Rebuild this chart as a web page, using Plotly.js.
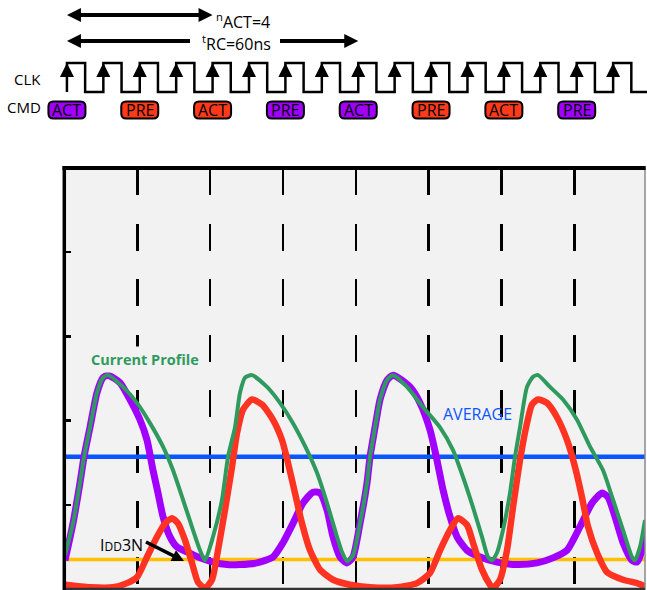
<!DOCTYPE html>
<html><head><meta charset="utf-8">
<script src="https://cdn.plot.ly/plotly-3.0.1.min.js"></script>
<style>html,body{margin:0;padding:0;background:#fff;overflow:hidden}#chart{width:647px;height:590px}</style>
</head><body><div id="chart"></div>
<script>
// ---------------- data ----------------
// time in ns, current in arbitrary units
const purplePts = [[0.1,0.34],[1.75,0.78],[3.19,1.26],[4.02,1.57],[5.25,1.92],[6.69,2.33],[7.93,2.51],[8.96,2.54],[11.43,2.45],[13.49,2.25],[15.55,2.01],[16.99,1.77],[18.23,1.41],[19.26,1.14],[20.29,0.86],[21.73,0.62],[23.17,0.50],[25.23,0.44],[27.91,0.37],[30.59,0.32],[33.47,0.29],[36.15,0.29],[39.65,0.31],[42.95,0.38],[45.01,0.55],[47.06,0.78],[49.12,1.02],[51.18,1.15],[52.63,1.14],[54.07,0.94],[55.31,0.62],[56.75,0.38],[58.19,0.31],[59.42,0.38],[60.87,0.78],[62.31,1.26],[62.93,1.57],[63.96,1.92],[64.99,2.25],[66.43,2.48],[67.67,2.54],[71.17,2.40],[73.23,2.21],[75.28,1.89],[76.72,1.53],[77.96,1.18],[79.40,0.86],[80.85,0.62],[82.91,0.46],[85.58,0.38],[89.08,0.32],[93.2,0.29],[97.32,0.31],[100.62,0.37],[103.5,0.46],[106.18,0.74],[108.65,1.02],[110.71,1.14],[111.95,1.09],[113.39,0.86],[115.04,0.55],[116.89,0.34],[117.92,0.32],[118.95,0.46],[119.98,0.78]];
const greenPts = [[0.1,0.40],[1.75,0.78],[3.19,1.26],[4.02,1.57],[5.25,1.92],[6.69,2.33],[7.93,2.51],[8.96,2.54],[12.05,2.40],[14.93,2.21],[17.61,1.97],[20.29,1.69],[22.35,1.41],[24.41,1.06],[26.47,0.70],[27.91,0.46],[28.94,0.34],[30.59,0.62],[32.44,1.06],[33.68,1.57],[35.12,1.92],[36.15,2.33],[37.18,2.51],[38.62,2.54],[41.71,2.40],[44.39,2.21],[47.06,1.97],[49.95,1.65],[52.01,1.38],[54.07,1.02],[56.13,0.62],[57.16,0.44],[58.19,0.33],[59.42,0.40],[60.87,0.78],[62.31,1.26],[62.93,1.57],[63.96,1.92],[64.99,2.25],[66.43,2.48],[67.67,2.54],[70.55,2.40],[73.85,2.16],[77.35,1.92],[80.02,1.65],[82.08,1.33],[84.14,0.97],[85.99,0.62],[87.23,0.38],[88.06,0.34],[89.08,0.43],[90.32,0.70],[91.76,1.14],[92.79,1.57],[93.82,1.92],[95.26,2.40],[96.5,2.52],[97.53,2.54],[100.0,2.40],[102.68,2.25],[105.56,2.01],[108.24,1.69],[110.92,1.41],[112.98,1.06],[115.04,0.70],[116.89,0.38],[117.5,0.34],[118.54,0.50],[119.57,0.82]];
const redPts = [[0.1,0.05],[5.25,0.02],[9.99,0.02],[12.87,0.07],[14.93,0.14],[16.99,0.38],[19.05,0.62],[20.70,0.78],[22.14,0.84],[23.38,0.78],[24.82,0.58],[26.26,0.31],[27.5,0.08],[28.94,0.01],[30.38,0.11],[31.62,0.46],[33.06,0.94],[34.5,1.45],[35.53,1.85],[36.77,2.13],[38.62,2.25],[40.68,2.19],[42.95,2.01],[44.8,1.77],[46.03,1.50],[47.47,1.14],[48.92,0.78],[50.57,0.46],[52.63,0.23],[55.31,0.11],[58.81,0.05],[62.93,0.02],[68.49,0.02],[72.61,0.07],[75.28,0.19],[77.35,0.46],[79.4,0.70],[81.05,0.84],[82.91,0.76],[84.14,0.55],[85.99,0.23],[87.64,0.05],[88.26,0.01],[89.7,0.11],[91.14,0.46],[92.38,0.97],[93.82,1.53],[95.26,1.97],[96.29,2.19],[97.53,2.25],[99.38,2.21],[101.44,2.04],[103.5,1.77],[105.15,1.45],[106.59,1.09],[107.83,0.74],[109.68,0.43],[111.74,0.20],[115.04,0.11],[117.92,0.07],[119.98,0.02]];
const averageLevel = 1.57;
const idd3nLevel = 0.35;
const clkRise = [0.5, 8, 15.5, 23, 30.5, 38, 45.5, 53, 60.5, 68, 75.5, 83, 90.5, 98, 105.5, 113];
const clkFall = [4.25, 11.75, 19.25, 26.75, 34.25, 41.75, 49.25, 56.75, 64.25, 71.75, 79.25, 86.75, 94.25, 101.75, 109.25, 116.75];
const cmdLabels = ['ACT', 'PRE', 'ACT', 'PRE', 'ACT', 'PRE', 'ACT', 'PRE'];
const cmdTimes = [0.5, 15.5, 30.5, 45.5, 60.5, 75.5, 90.5, 105.5];
const cmdKinds = ['p', 'r', 'r', 'p', 'p', 'r', 'r', 'p'];
const nACT = 4;        // clocks
const tRC = 60;        // ns

// ---------------- layout geometry ----------------
const W = 647, H = 590;
const NS_PX = 4.855, X0 = 64.5;     // px per ns, px of t=0
const V_PX = 84.2, Y0 = 589;        // px per unit, px of v=0
const fx = px => px / W, fy = py => 1 - py / H;
const tAt = px => (px - X0) / NS_PX;
const vAt = py => (Y0 - py) / V_PX;
const LV_PX = 29, LOW_PY = 92;      // clock diagram: px per level, px of low level
const lv = py => (LOW_PY - py) / LV_PX;
const TOP_DOM = 0.78;
const MAIN_TOP = 168, MAIN_L = 64, MAIN_R = 645;

const C = {purple:'#a100ff', red:'#ff3322', green:'#2f9a5e', blue:'#0a55ff', yellow:'#ffc000', bg:'#f2f2f2'};
const FONT = 'Open Sans, Noto Sans, sans-serif';

// ---------------- traces ----------------
const tMax = (W - X0) / NS_PX;
const line = (pts, color, width) => ({
  type:'scatter', mode:'lines', x: pts.map(p=>p[0]), y: pts.map(p=>p[1]),
  line:{color, width, shape:'spline', smoothing:0.6}, hoverinfo:'skip', xaxis:'x', yaxis:'y'
});
const traces = [
  {type:'scatter', mode:'lines', x:[0, tMax], y:[idd3nLevel, idd3nLevel], line:{color:C.yellow, width:3.5}, hoverinfo:'skip'},
  {type:'scatter', mode:'lines', x:[0, tMax], y:[averageLevel, averageLevel], line:{color:C.blue, width:4.5}, hoverinfo:'skip'},
  line(purplePts, C.purple, 7),
  line(redPts, C.red, 6.5),
  line(greenPts, C.green, 4),
];
// clock waveform
const cx = [], cy = [];
clkRise.forEach((r, i) => { cx.push(r, r, clkFall[i], clkFall[i]); cy.push(0, 1, 1, 0); });
cx.push(tMax); cy.push(0);
traces.push({type:'scatter', mode:'lines', x:cx, y:cy, xaxis:'x2', yaxis:'y2',
  line:{color:'#000', width:2.5}, hoverinfo:'skip', cliponaxis:false});
traces.push({type:'scatter', mode:'markers', x:clkRise, y:clkRise.map(()=>1), xaxis:'x2', yaxis:'y2',
  marker:{symbol:'arrow-up', size:14, color:'#000', line:{width:0}}, hoverinfo:'skip', cliponaxis:false});

// timing arrows (double headed), drawn as line + arrow markers
const INSET = 7 / NS_PX;
function hArrow(xa, xb, yl, withStart, withEnd) {
  const xs = [withStart ? xa + INSET : xa, withEnd ? xb - INSET : xb];
  traces.push({type:'scatter', mode:'lines', x:xs, y:[yl, yl], xaxis:'x2', yaxis:'y2',
    line:{color:'#000', width:4}, hoverinfo:'skip', cliponaxis:false});
  const mx = [], ms = [];
  if (withStart) { mx.push(xa); ms.push('arrow-left'); }
  if (withEnd) { mx.push(xb); ms.push('arrow-right'); }
  traces.push({type:'scatter', mode:'markers', x:mx, y:mx.map(()=>yl), xaxis:'x2', yaxis:'y2',
    marker:{symbol:ms, size:14, color:'#000', line:{width:0}}, hoverinfo:'skip', cliponaxis:false});
}
hArrow(clkRise[0], clkRise[nACT], lv(15), true, true);
hArrow(clkRise[0], tAt(190), lv(41), true, false);
hArrow(tAt(280), clkRise[0] + tRC, lv(41), false, true);

// IDD3N pointer arrow (main axes)
const tail = [146, 542], tip = [184, 561];
const ang = Math.atan2(tip[1]-tail[1], tip[0]-tail[0]);
traces.push({type:'scatter', mode:'lines', x:[tAt(tail[0]), tAt(tip[0]-6*Math.cos(ang))], y:[vAt(tail[1]), vAt(tip[1]-6*Math.sin(ang))],
  line:{color:'#000', width:3.5}, hoverinfo:'skip', cliponaxis:false});
traces.push({type:'scatter', mode:'markers', x:[tAt(tip[0])], y:[vAt(tip[1])],
  marker:{symbol:'arrow-right', size:12, angle: ang*180/Math.PI, color:'#000', line:{width:0}}, hoverinfo:'skip', cliponaxis:false});

// ---------------- shapes ----------------
const shapes = [
  {type:'rect', xref:'paper', yref:'paper', x0:fx(MAIN_L), x1:fx(MAIN_R), y0:0, y1:fy(MAIN_TOP), fillcolor:C.bg, line:{width:0}, layer:'below'},
  {type:'line', xref:'paper', yref:'paper', x0:fx(MAIN_R), x1:fx(MAIN_R), y0:0, y1:fy(MAIN_TOP), line:{color:'#8a8a8a', width:1.5}},
  {type:'line', xref:'paper', yref:'paper', x0:fx(MAIN_L), x1:fx(MAIN_R), y0:fy(589), y1:fy(589), line:{color:'#333', width:2.5}},
  {type:'line', xref:'paper', yref:'paper', x0:fx(62.5), x1:fx(MAIN_R+0.7), y0:fy(MAIN_TOP), y1:fy(MAIN_TOP), line:{color:'#000', width:4}},
  {type:'line', xref:'paper', yref:'paper', x0:fx(64.3), x1:fx(64.3), y0:0, y1:fy(166), line:{color:'#000', width:3.5}},
];
const bw = 18.5, bh = 8.5, br = 5;
const badgePath = `M${-bw+br},${-bh} H${bw-br} Q${bw},${-bh} ${bw},${-bh+br} V${bh-br} Q${bw},${bh} ${bw-br},${bh} H${-bw+br} Q${-bw},${bh} ${-bw},${bh-br} V${-bh+br} Q${-bw},${-bh} ${-bw+br},${-bh} Z`;
const BADGE_LV = lv(110);
cmdTimes.forEach((t, i) => {
  shapes.push({type:'path', xref:'x2', yref:'y2', xsizemode:'pixel', ysizemode:'pixel',
    xanchor:t, yanchor:BADGE_LV, path:badgePath,
    fillcolor: cmdKinds[i]==='p' ? C.purple : '#ff3a1a', line:{color:'#000', width:2}});
});

// ---------------- annotations ----------------
const ann = [];
cmdTimes.forEach((t, i) => ann.push({xref:'x2', yref:'y2', x:t, y:BADGE_LV, text:cmdLabels[i], showarrow:false,
  font:{family:FONT, size:16, color:'#000'}, xanchor:'center', yanchor:'middle'}));
ann.push({xref:'paper', yref:'paper', x:fx(43), y:fy(79), text:'CLK', showarrow:false, xanchor:'right', yanchor:'middle', font:{family:FONT, size:15, color:'#000'}});
ann.push({xref:'paper', yref:'paper', x:fx(43), y:fy(107), text:'CMD', showarrow:false, xanchor:'right', yanchor:'middle', font:{family:FONT, size:15, color:'#000'}});
ann.push({xref:'paper', yref:'paper', x:fx(214), y:fy(21), text:'<sup>n</sup>ACT=4', showarrow:false, xanchor:'left', yanchor:'middle',
  font:{family:FONT, size:16, color:'#000'}});
ann.push({xref:'paper', yref:'paper', x:fx(236), y:fy(43), text:'<sup>t</sup>RC=60ns', showarrow:false, xanchor:'center', yanchor:'middle',
  font:{family:FONT, size:16, color:'#000'}});
ann.push({xref:'paper', yref:'paper', x:fx(145), y:fy(359), text:'<b>Current Profile</b>', showarrow:false, xanchor:'center', yanchor:'middle',
  font:{family:FONT, size:14.5, color:C.green}, bgcolor:C.bg, borderpad:3});
ann.push({xref:'paper', yref:'paper', x:fx(477), y:fy(414), text:'AVERAGE', showarrow:false, xanchor:'center', yanchor:'middle',
  font:{family:FONT, size:16, color:C.blue}});
ann.push({xref:'paper', yref:'paper', x:fx(121), y:fy(545), text:"I<span style='font-size:12px'>DD</span>3N", showarrow:false, xanchor:'center', yanchor:'middle',
  font:{family:FONT, size:16, color:'#000'}});

// ---------------- layout ----------------
const layout = {
  width:W, height:H, margin:{l:0, r:0, t:0, b:0},
  paper_bgcolor:'#fff', plot_bgcolor:'rgba(0,0,0,0)', showlegend:false,
  xaxis:{domain:[fx(MAIN_L), fx(MAIN_R)], range:[(MAIN_L-X0)/NS_PX, (MAIN_R-X0)/NS_PX], anchor:'y',
    showgrid:true, gridcolor:'#000', gridwidth:2.5, griddash:'27px,28.5px', tick0:0, dtick:15,
    showticklabels:false, ticks:'', zeroline:false, showline:false, fixedrange:true},
  yaxis:{domain:[0, fy(MAIN_TOP)], range:[(Y0-H)/V_PX, (Y0-MAIN_TOP)/V_PX], anchor:'x',
    showgrid:false, zeroline:false, showline:false, ticks:'inside', ticklen:7, tickwidth:2.5, tickcolor:'#000',
    tick0:0, dtick:1, showticklabels:false, fixedrange:true},
  xaxis2:{domain:[0,1], range:[-X0/NS_PX, (W-X0)/NS_PX], anchor:'y2', visible:false, fixedrange:true},
  yaxis2:{domain:[TOP_DOM,1], range:[lv((1-TOP_DOM)*H), lv(0)], anchor:'x2', visible:false, fixedrange:true},
  shapes, annotations:ann,
  font:{family:FONT}
};
Plotly.newPlot('chart', traces, layout, {staticPlot:true, displayModeBar:false});
</script></body></html>
